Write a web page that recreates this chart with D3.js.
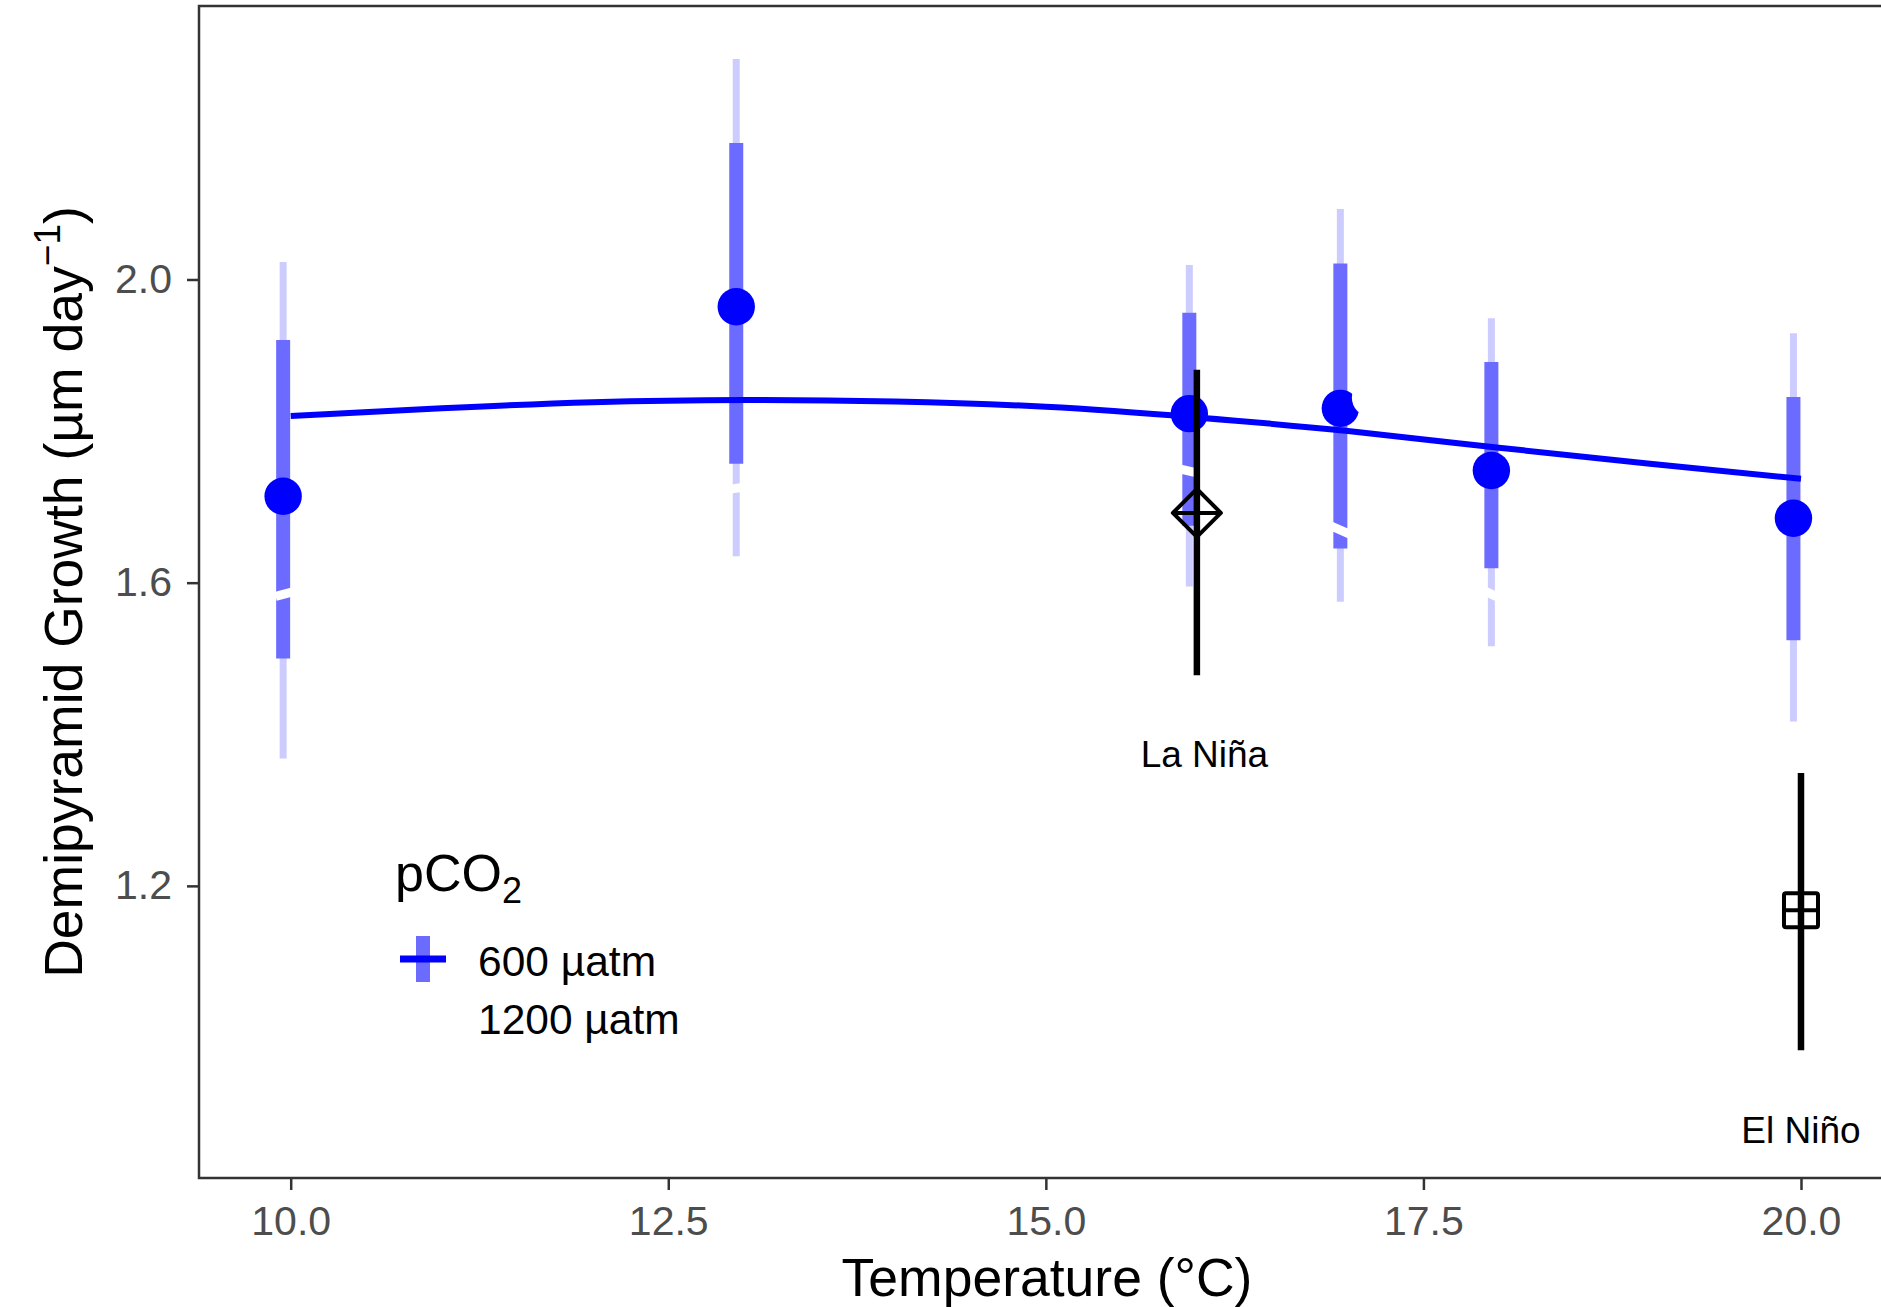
<!DOCTYPE html>
<html>
<head>
<meta charset="utf-8">
<script src="https://cdn.jsdelivr.net/npm/d3@7"></script>
<style>
  body { margin: 0; background: #fff; }
  svg { display: block; font-family: "Liberation Sans", Arial, sans-serif; }
</style>
</head>
<body>
<svg id="chart" width="1881" height="1307"></svg>
<script>
// 600 uatm series (blue), one value per temperature
var temps = [10, 13, 16, 17, 18, 20];
var lowMean    = [1.714, 1.964, 1.823, 1.830, 1.748, 1.685];
var lowInnerLo = [1.500, 1.757, 1.675, 1.645, 1.619, 1.524];
var lowInnerHi = [1.920, 2.180, 1.956, 2.021, 1.891, 1.845];
var lowOuterLo = [1.368, 1.635, 1.595, 1.575, 1.516, 1.417];
var lowOuterHi = [2.023, 2.291, 2.019, 2.093, 1.949, 1.929];

// fitted curve for 600 uatm
var fitTemps = [10, 11, 12, 13, 14, 15, 16, 17, 18, 19, 20];
var lowFit   = [1.820, 1.830, 1.838, 1.841, 1.839, 1.832, 1.818, 1.800, 1.778, 1.757, 1.737];

// 1200 uatm series is drawn in white: only its overlaps show
var highFitTemps = [9.9, 11, 12, 13, 14, 15, 16, 17, 18, 19, 20];
var highFit      = [1.582, 1.640, 1.690, 1.726, 1.750, 1.760, 1.745, 1.665, 1.580, 1.460, 1.320];
var highMean     = [1.580, 1.730, 1.750, 1.844, 1.580, 1.300];

// field observations
var events = ["La Niña", "El Niño"];
var eventTemp = [16, 20];
var eventMean = [1.692, 1.168];
var eventLo   = [1.478, 0.983];
var eventHi   = [1.881, 1.349];
var eventLabelX = [16.05, 20.0];
var eventLabelY = [1.375, 0.879];

var xTicks = [10, 12.5, 15, 17.5, 20];
var yTicks = [1.2, 1.6, 2.0];
var legendLabels = ["600 µatm", "1200 µatm"];

var margin = { left: 199, top: 6 };
var width = 1684, height = 1172;
var dodge = 0.05;

var svg = d3.select("#chart");
var g = svg.append("g").attr("transform", "translate(" + margin.left + "," + margin.top + ")");

var x = d3.scaleLinear().domain([9.3928, 20.543]).range([0, width]);
var y = d3.scaleLinear().domain([0.8146, 2.3608]).range([height, 0]);

svg.append("clipPath").attr("id", "panel")
  .append("rect").attr("width", width).attr("height", height);
var plot = g.append("g").attr("clip-path", "url(#panel)");

function vbars(lo, hi, w, color) {
  plot.selectAll(null).data(temps).enter().append("line")
    .attr("x1", function (d) { return x(d - dodge); })
    .attr("x2", function (d) { return x(d - dodge); })
    .attr("y1", function (d, i) { return y(lo[i]); })
    .attr("y2", function (d, i) { return y(hi[i]); })
    .attr("stroke", color)
    .attr("stroke-width", w);
}

vbars(lowOuterLo, lowOuterHi, 7, "#ccccff");
vbars(lowInnerLo, lowInnerHi, 14, "#6b6bff");

var line = d3.line()
  .x(function (d) { return x(d[0]); })
  .y(function (d) { return y(d[1]); })
  .curve(d3.curveNatural);

plot.append("path")
  .datum(d3.zip(highFitTemps, highFit))
  .attr("d", line)
  .attr("fill", "none")
  .attr("stroke", "#ffffff")
  .attr("stroke-width", 9);

plot.selectAll(null).data(temps).enter().append("circle")
  .attr("cx", function (d) { return x(d - dodge); })
  .attr("cy", function (d, i) { return y(lowMean[i]); })
  .attr("r", 18.7)
  .attr("fill", "#0000ff");

plot.selectAll(null).data(temps).enter().append("circle")
  .attr("cx", function (d) { return x(d + 3 * dodge); })
  .attr("cy", function (d, i) { return y(highMean[i]); })
  .attr("r", 18.7)
  .attr("fill", "#ffffff");

plot.append("path")
  .datum(d3.zip(fitTemps, lowFit))
  .attr("d", line)
  .attr("fill", "none")
  .attr("stroke", "#0000ff")
  .attr("stroke-width", 6);

// event bars and shapes
plot.selectAll(null).data(eventTemp).enter().append("line")
  .attr("x1", function (d) { return x(d); })
  .attr("x2", function (d) { return x(d); })
  .attr("y1", function (d, i) { return y(eventLo[i]); })
  .attr("y2", function (d, i) { return y(eventHi[i]); })
  .attr("stroke", "#000")
  .attr("stroke-width", 6.5);

var dx = x(eventTemp[0]), dy = y(eventMean[0]), r = 24;
plot.append("path")
  .attr("d", "M" + dx + "," + (dy - r) + "L" + (dx + r) + "," + dy + "L" + dx + "," + (dy + r) +
    "L" + (dx - r) + "," + dy + "Z M" + (dx - r) + "," + dy + "H" + (dx + r) +
    " M" + dx + "," + (dy - r) + "V" + (dy + r))
  .attr("fill", "none").attr("stroke", "#000").attr("stroke-width", 4)
  .attr("stroke-linejoin", "round");

var sx = x(eventTemp[1]), sy = y(eventMean[1]), s = 17;
plot.append("rect")
  .attr("x", sx - s).attr("y", sy - s).attr("width", 2 * s).attr("height", 2 * s)
  .attr("rx", 2)
  .attr("fill", "none").attr("stroke", "#000").attr("stroke-width", 4);
plot.append("path")
  .attr("d", "M" + (sx - s) + "," + sy + "H" + (sx + s) + "M" + sx + "," + (sy - s) + "V" + (sy + s))
  .attr("stroke", "#000").attr("stroke-width", 4);

plot.selectAll(null).data(events).enter().append("text")
  .attr("x", function (d, i) { return x(eventLabelX[i]); })
  .attr("y", function (d, i) { return y(eventLabelY[i]); })
  .attr("text-anchor", "middle")
  .attr("dy", "0.36em")
  .attr("font-size", 37)
  .attr("fill", "#000")
  .text(function (d) { return d; });

// axes
var xAxisG = g.append("g").attr("transform", "translate(0," + height + ")")
  .call(d3.axisBottom(x).tickValues(xTicks).tickFormat(d3.format(".1f")).tickSize(12).tickPadding(16).tickSizeOuter(0));
var yAxisG = g.append("g")
  .call(d3.axisLeft(y).tickValues(yTicks).tickFormat(d3.format(".1f")).tickSize(12).tickPadding(15).tickSizeOuter(0));

[xAxisG, yAxisG].forEach(function (a) {
  a.select(".domain").remove();
  a.selectAll(".tick line").attr("stroke", "#333").attr("stroke-width", 2.5);
  a.selectAll(".tick text").attr("fill", "#4d4d4d").attr("font-size", 41)
    .attr("font-family", "Liberation Sans, Arial, sans-serif");
});

g.append("rect")
  .attr("width", width).attr("height", height)
  .attr("fill", "none").attr("stroke", "#333").attr("stroke-width", 2.5);

svg.append("text")
  .attr("x", 1047)
  .attr("y", 1296)
  .attr("text-anchor", "middle")
  .attr("font-size", 53.5)
  .text("Temperature (°C)");

var yTitle = svg.append("text")
  .attr("transform", "translate(82," + (margin.top + height / 2) + ") rotate(-90)")
  .attr("text-anchor", "middle")
  .attr("font-size", 53.5);
yTitle.append("tspan").text("Demipyramid Growth (µm day");
yTitle.append("tspan").attr("font-size", 37).attr("dy", -22).text("−1");
yTitle.append("tspan").attr("dy", 22).text(")");

// legend
var legend = svg.append("g");
var lt = legend.append("text").attr("x", 395).attr("y", 891).attr("font-size", 52);
lt.append("tspan").text("pCO");
lt.append("tspan").attr("font-size", 36).attr("dy", 12).text("2");

legend.append("line")
  .attr("x1", 423).attr("x2", 423).attr("y1", 936).attr("y2", 982)
  .attr("stroke", "#6b6bff").attr("stroke-width", 14);
legend.append("line")
  .attr("x1", 400).attr("x2", 446).attr("y1", 959).attr("y2", 959)
  .attr("stroke", "#0000ff").attr("stroke-width", 7);

legend.selectAll(null).data(legendLabels).enter().append("text")
  .attr("x", 478)
  .attr("y", function (d, i) { return 961 + i * 58; })
  .attr("dy", "0.36em")
  .attr("font-size", 42.5)
  .text(function (d) { return d; });
</script>
</body>
</html>
